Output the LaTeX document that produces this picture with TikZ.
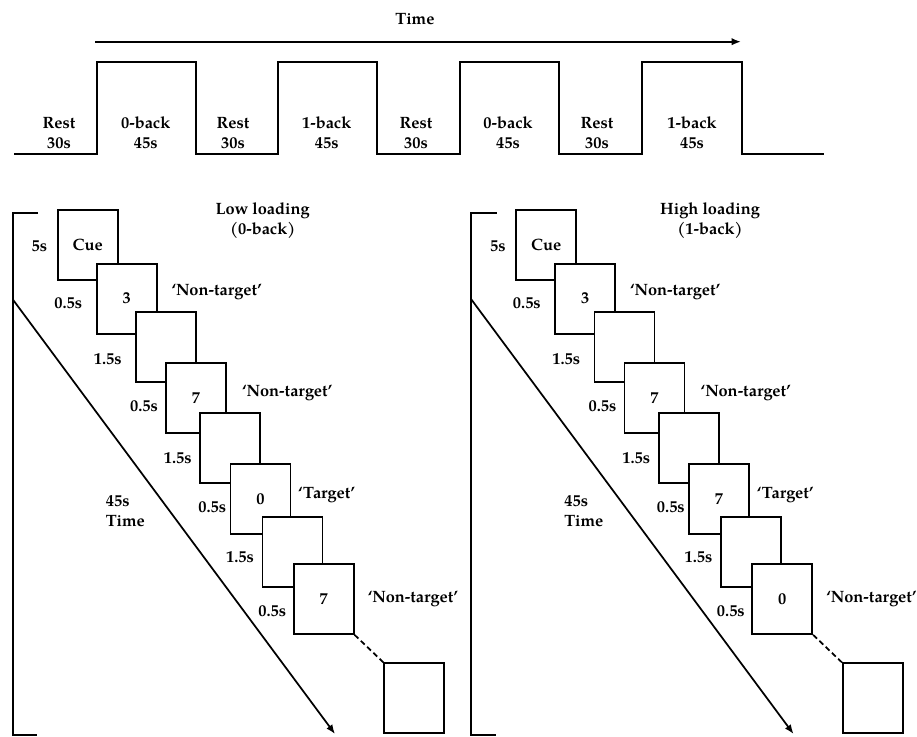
\documentclass[tikz,border=0pt]{standalone}
\usepackage{fontspec}
\setmainfont{TeX Gyre Pagella}
\usetikzlibrary{arrows.meta}
\tikzset{
  lbl/.style={font=\bfseries\fontsize{12.3}{15.3}\selectfont, inner sep=0pt, align=center},
  card/.style={draw, fill=white, minimum width=45pt, minimum height=52.5pt, inner sep=0pt,
               font=\bfseries\fontsize{12.3}{14}\selectfont},
  wave/.style={line width=1.5pt, line join=miter},
  axis/.style={line width=1.3pt, -{Latex[length=7pt,width=5.5pt]}},
}
\newcommand{\trialpanel}[9]{%
\begin{scope}[xshift=#2]
  % bracket
  \coordinate (#1bt) at (38,212.7);
  \coordinate (#1bb) at (37,735);
  \draw[line width=1.5pt] (#1bt) -- (12.7,212.7) -- (12.7,735) -- (#1bb);
  \coordinate (#1as) at (12.7,299.3);
  \coordinate (#1ae) at (335,734);
  \draw[axis] (#1as) -- (#1ae);
  % cards
  \node[card] (#1c1) at (87.7,245.3) {Cue};
  \node[card] (#1c2) at (126.7,298.7) {#5};
  \node[card] (#1c3) at (165.9,347.3) {};
  \node[card] (#1c4) at (196,398) {#6};
  \node[card] (#1c5) at (230.3,448.3) {};
  \node[card] (#1c6) at (260.5,498.8) {#7};
  \node[card] (#1c7) at (292.5,551.7) {};
  \node[card] (#1c8) at (323.7,599) {#8};
  \node[card] (#1c9) at (414.3,698.3) {};
  \draw[line width=1.3pt, dash pattern=on 4pt off 2.5pt] (#1c8.south east) -- (#1c9.north west);
  % labels
  \node[lbl] (#1title) at (#9,220.7) {#3\\#4};
  \node[lbl] (#1l1) at (39.3,246) {5s};
  \node[lbl] (#1l2) at (68.3,303.3) {0.5s};
  \node[lbl] (#1l3) at (107.7,359) {1.5s};
  \node[lbl] (#1l4) at (144,406.7) {0.5s};
  \node[lbl] (#1l5) at (177.7,458.3) {1.5s};
  \node[lbl] (#1l6) at (212.3,507.3) {0.5s};
  \node[lbl] (#1l7) at (240,556.7) {1.5s};
  \node[lbl] (#1l8) at (272.3,611.7) {0.5s};
  \node[lbl] (#1r1) at (216.7,292.3) {‘Non-target’};
  \node[lbl] (#1r2) at (287.3,392.7) {‘Non-target’};
  \node[lbl] (#1r3) at (326.7,495) {‘Target’};
  \node[lbl] (#1r4) at (413,599.3) {‘Non-target’};
  \node[lbl, align=left, anchor=west] (#1time) at (105,511) {45s\\Time};
\end{scope}}
\begin{document}
\begin{tikzpicture}[x=0.75pt,y=-0.75pt, line width=1.3pt]
\useasboundingbox (0,0) rectangle (917,736);
% time arrow
\node[lbl] (time) at (415,19) {Time};
\coordinate (ta) at (95,41.7);
\coordinate (tb) at (741,41.7);
\draw[axis] (ta) -- (tb);
% block design wave
\draw[wave] (14,154.3) -- (96.7,154.3) -- (96.7,61.7) -- (195.7,61.7) -- (195.7,154.3)
  -- (277.7,154.3) -- (277.7,61.7) -- (377.3,61.7) -- (377.3,154.3)
  -- (460,154.3) -- (460,61.7) -- (559.3,61.7) -- (559.3,154.3)
  -- (642,154.3) -- (642,61.7) -- (742,61.7) -- (742,154.3) -- (824,154.3);
\node[lbl] (b1) at (59,133) {Rest\\30s};
\node[lbl] (b2) at (145.7,133) {0-back\\45s};
\node[lbl] (b3) at (233,133) {Rest\\30s};
\node[lbl] (b4) at (326.7,133) {1-back\\45s};
\node[lbl] (b5) at (416,133) {Rest\\30s};
\node[lbl] (b6) at (508,133) {0-back\\45s};
\node[lbl] (b7) at (597,133) {Rest\\30s};
\node[lbl] (b8) at (692,133) {1-back\\45s};
% panels
\trialpanel{L}{0pt}{Low loading}{(0-back)}{3}{7}{0}{7}{262.7}
\trialpanel{H}{343.9pt}{High loading}{(1-back)}{3}{7}{7}{0}{251.5}
\end{tikzpicture}
\end{document}
